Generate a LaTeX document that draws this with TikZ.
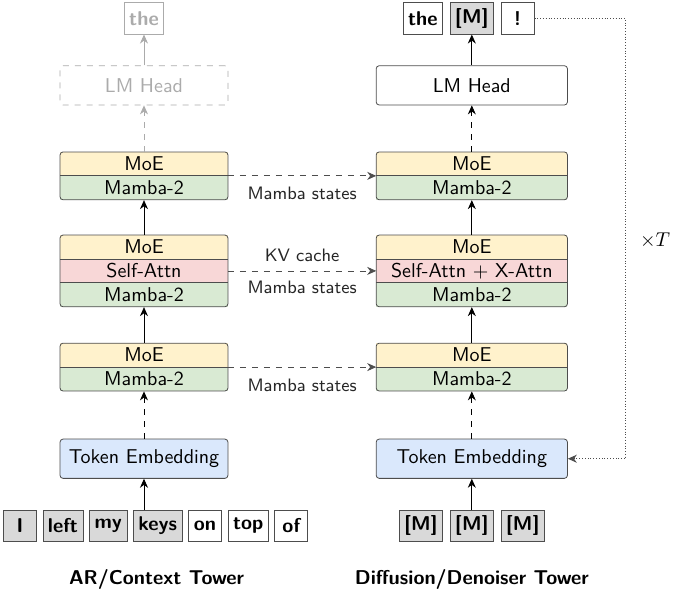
\documentclass[tikz,border=0pt]{standalone}
\usepackage{amsmath}
\usepackage{tikz}
\usetikzlibrary{arrows.meta, positioning, fit, calc}
\definecolor{cMoE}{HTML}{FFF2CC}
\definecolor{cMamba}{HTML}{D9EAD3}
\definecolor{cAttn}{HTML}{F8D7D7}
\definecolor{cEmb}{HTML}{DAE8FC}
\definecolor{cTok}{HTML}{D9D9D9}
\definecolor{cEdge}{HTML}{4D4D4D}
\definecolor{cGhost}{HTML}{ABABAB}

\begin{document}
\begin{tikzpicture}[
  font=\sffamily,
  layer/.style={minimum height=0.42cm, inner sep=0pt, outer sep=0pt},
  lcol/.style={minimum width=2.95cm},
  rcol/.style={minimum width=3.36cm},
  frame/.style={draw=cEdge, rounded corners=1.5pt, inner sep=0pt},
  box/.style={draw=cEdge, rounded corners=1.5pt, minimum height=0.69cm},
  tok/.style={draw=cEdge, font=\sffamily\bfseries, minimum width=0.58cm, minimum height=0.55cm, inner sep=2.5pt},
  lbl/.style={font=\sffamily\small, text=black!85},
  flow/.style={-{Stealth[length=4.5pt, width=4pt]}, black},
  carry/.style={dashed, -{Stealth[length=4.5pt, width=4pt]}, cEdge}
]
\useasboundingbox (0,0) rectangle (11.86,-10.40);

% left tower
\node[tok, draw=cGhost, text=cGhost] (lout) at (2.53,-0.325) {the};
\node[box, lcol, draw=cGhost, dashed, text=cGhost] (lhead) at (2.53,-1.50) {LM Head};

\node[layer, lcol, fill=cMoE, anchor=north] (lmoe3) at (2.53,-2.67) {MoE};
\node[layer, lcol, fill=cMamba, below=0pt of lmoe3] (lmam3) {Mamba-2};
\draw[cEdge] (lmoe3.south west) -- (lmoe3.south east);
\node[frame, fit=(lmoe3)(lmam3)] (lblk3) {};

\node[layer, lcol, fill=cMoE, anchor=north] (lmoe2) at (2.53,-4.13) {MoE};
\node[layer, lcol, fill=cAttn, below=0pt of lmoe2] (lsa) {Self-Attn};
\node[layer, lcol, fill=cMamba, below=0pt of lsa] (lmam2) {Mamba-2};
\draw[cEdge] (lmoe2.south west) -- (lmoe2.south east);
\draw[cEdge] (lsa.south west) -- (lsa.south east);
\node[frame, fit=(lmoe2)(lmam2)] (lblk2) {};

\node[layer, lcol, fill=cMoE, anchor=north] (lmoe1) at (2.53,-6.03) {MoE};
\node[layer, lcol, fill=cMamba, below=0pt of lmoe1] (lmam1) {Mamba-2};
\draw[cEdge] (lmoe1.south west) -- (lmoe1.south east);
\node[frame, fit=(lmoe1)(lmam1)] (lblk1) {};

\node[box, lcol, fill=cEmb] (lemb) at (2.53,-8.06) {Token Embedding};

\node[tok, fill=cTok] (w1) at (0.35,-9.24) {I};
\node[tok, fill=cTok, right=0.1cm of w1] (w2) {left};
\node[tok, fill=cTok, right=0.1cm of w2] (w3) {my};
\node[tok, fill=cTok, right=0.1cm of w3] (w4) {keys};
\node[tok, right=0.1cm of w4] (w5) {on};
\node[tok, right=0.1cm of w5] (w6) {top};
\node[tok, right=0.1cm of w6] (w7) {of};
\node[font=\sffamily\bfseries] (ltitle) at (2.75,-10.19) {AR/Context Tower};

% right tower
\node[tok, fill=cTok] (rout2) at (8.29,-0.325) {[M]};
\node[tok, left=0.12cm of rout2] (rout1) {the};
\node[tok, right=0.12cm of rout2] (rout3) {!};
\node[box, rcol] (rhead) at (8.29,-1.50) {LM Head};

\node[layer, rcol, fill=cMoE, anchor=north] (rmoe3) at (8.29,-2.67) {MoE};
\node[layer, rcol, fill=cMamba, below=0pt of rmoe3] (rmam3) {Mamba-2};
\draw[cEdge] (rmoe3.south west) -- (rmoe3.south east);
\node[frame, fit=(rmoe3)(rmam3)] (rblk3) {};

\node[layer, rcol, fill=cMoE, anchor=north] (rmoe2) at (8.29,-4.13) {MoE};
\node[layer, rcol, fill=cAttn, below=0pt of rmoe2] (rsa) {Self-Attn $+$ X-Attn};
\node[layer, rcol, fill=cMamba, below=0pt of rsa] (rmam2) {Mamba-2};
\draw[cEdge] (rmoe2.south west) -- (rmoe2.south east);
\draw[cEdge] (rsa.south west) -- (rsa.south east);
\node[frame, fit=(rmoe2)(rmam2)] (rblk2) {};

\node[layer, rcol, fill=cMoE, anchor=north] (rmoe1) at (8.29,-6.03) {MoE};
\node[layer, rcol, fill=cMamba, below=0pt of rmoe1] (rmam1) {Mamba-2};
\draw[cEdge] (rmoe1.south west) -- (rmoe1.south east);
\node[frame, fit=(rmoe1)(rmam1)] (rblk1) {};

\node[box, rcol, fill=cEmb] (remb) at (8.29,-8.06) {Token Embedding};

\node[tok, fill=cTok] (m2) at (8.29,-9.24) {[M]};
\node[tok, fill=cTok, left=0.12cm of m2] (m1) {[M]};
\node[tok, fill=cTok, right=0.12cm of m2] (m3) {[M]};
\node[font=\sffamily\bfseries] (rtitle) at (8.29,-10.19) {Diffusion/Denoiser Tower};

\node (times) at (11.51,-4.22) {$\times T$};

% vertical flow
\draw[flow] (lemb.south |- w4.north) -- (lemb.south);
\draw[flow, dashed] (lemb.north) -- (lblk1.south);
\draw[flow] (lblk1.north) -- (lblk2.south);
\draw[flow] (lblk2.north) -- (lblk3.south);
\draw[flow, dashed, cGhost] (lblk3.north) -- (lhead.south);
\draw[flow, cGhost] (lhead.north) -- (lout.south);

\draw[flow] (m2.north) -- (remb.south);
\draw[flow, dashed] (remb.north) -- (rblk1.south);
\draw[flow] (rblk1.north) -- (rblk2.south);
\draw[flow] (rblk2.north) -- (rblk3.south);
\draw[flow, dashed] (rblk3.north) -- (rhead.south);
\draw[flow] (rhead.north) -- (rout2.south);

% states passed across
\draw[carry] (lmoe3.south east) -- node[lbl, below=2pt] {Mamba states} (rmoe3.south west);
\draw[carry] (lsa.east) -- node[lbl, above=1pt] {KV cache} node[lbl, below=1.6pt] {Mamba states} (rsa.west);
\draw[carry] (lmoe1.south east) -- node[lbl, below=2.5pt] {Mamba states} (rmoe1.south west);

% denoising loop
\draw[densely dotted, cEdge, -{Stealth[length=4.5pt, width=4pt]}] (rout3.east) -- ++(1.6,0) |- (remb.east);
\end{tikzpicture}
\end{document}
